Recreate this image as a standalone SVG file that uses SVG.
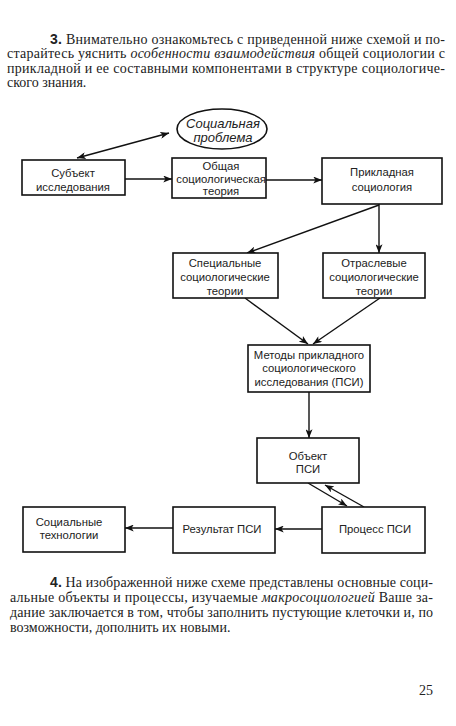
<svg xmlns="http://www.w3.org/2000/svg" width="456" height="726" viewBox="0 0 456 726">
<defs>
<marker id="ah" viewBox="0 0 10 8" refX="10" refY="4" markerWidth="9" markerHeight="7" markerUnits="userSpaceOnUse" orient="auto-start-reverse">
<path d="M0,0 L10,4 L0,8 L2.5,4 Z" fill="#111"/>
</marker>
<style>
.p{font-family:"Liberation Serif","Times New Roman",serif;font-size:14px;fill:#222}
.b{font-family:"Liberation Sans",Arial,sans-serif;font-weight:bold}
.i{font-style:italic}
.box{fill:#fff;stroke:#111;stroke-width:1.6}
.t{font-family:"Liberation Sans",Arial,sans-serif;font-size:11.3px;fill:#222;text-anchor:middle}
.e{font-size:13px}
.c{stroke:#111;stroke-width:1.4;fill:none}
</style>
</defs>
<rect width="456" height="726" fill="#fff"/>
<g id="text-top" class="p">
<text x="50" y="44" textLength="395" lengthAdjust="spacing"><tspan class="b">3.</tspan> Внимательно ознакомьтесь с приведенной ниже схемой и по-</text>
<text x="7" y="58" textLength="438" lengthAdjust="spacing">старайтесь уяснить <tspan class="i">особенности взаимодействия</tspan> общей социологии с</text>
<text x="7" y="73" textLength="438" lengthAdjust="spacing">прикладной и ее составными компонентами в структуре социологиче-</text>
<text x="7" y="87">ского знания.</text>
</g>
<g id="connectors">
<line class="c" x1="77" y1="158" x2="169" y2="133" marker-start="url(#ah)" marker-end="url(#ah)"/>
<line class="c" x1="125" y1="179" x2="172" y2="179" marker-end="url(#ah)"/>
<line class="c" x1="266" y1="180" x2="322" y2="180" marker-end="url(#ah)"/>
<line class="c" x1="379" y1="204" x2="379" y2="253" marker-end="url(#ah)"/>
<line class="c" x1="379" y1="205" x2="247" y2="253" marker-end="url(#ah)"/>
<line class="c" x1="245" y1="298" x2="308" y2="344" marker-end="url(#ah)"/>
<line class="c" x1="380" y1="298" x2="313" y2="344" marker-end="url(#ah)"/>
<line class="c" x1="309" y1="392" x2="309" y2="438" marker-end="url(#ah)"/>
<line class="c" x1="308" y1="483" x2="347" y2="506" marker-end="url(#ah)"/>
<line class="c" x1="364" y1="507" x2="325" y2="485" marker-end="url(#ah)"/>
<line class="c" x1="322" y1="529" x2="275" y2="529" marker-end="url(#ah)"/>
<line class="c" x1="173" y1="528" x2="125" y2="528" marker-end="url(#ah)"/>
</g>
<g id="problem">
<ellipse class="box" cx="222" cy="129" rx="45" ry="20"/>
<text class="t i e" x="223" y="128">Социальная</text>
<text class="t i e" x="223" y="142">проблема</text>
</g>
<g id="subject">
<rect class="box" x="22" y="160" width="103" height="35"/>
<text class="t" x="73" y="177">Субъект</text>
<text class="t" x="73" y="191">исследования</text>
</g>
<g id="general">
<rect class="box" x="172" y="158" width="94" height="40"/>
<text class="t" x="221" y="170">Общая</text>
<text class="t" x="221" y="183">социологическая</text>
<text class="t" x="221" y="195">теория</text>
</g>
<g id="applied">
<rect class="box" x="322" y="158" width="120" height="46"/>
<text class="t" x="382" y="176">Прикладная</text>
<text class="t" x="382" y="191">социология</text>
</g>
<g id="special">
<rect class="box" x="173" y="253" width="105" height="45"/>
<text class="t" x="225" y="267">Специальные</text>
<text class="t" x="225" y="281">социологические</text>
<text class="t" x="225" y="295">теории</text>
</g>
<g id="branch">
<rect class="box" x="323" y="253" width="102" height="45"/>
<text class="t" x="374" y="267">Отраслевые</text>
<text class="t" x="374" y="281">социологические</text>
<text class="t" x="374" y="295">теории</text>
</g>
<g id="methods">
<rect class="box" x="248" y="345" width="122" height="47"/>
<text class="t" x="309" y="359">Методы прикладного</text>
<text class="t" x="309" y="372">социологического</text>
<text class="t" x="309" y="386">исследования (ПСИ)</text>
</g>
<g id="object">
<rect class="box" x="257" y="438" width="102" height="45"/>
<text class="t" x="308" y="460">Объект</text>
<text class="t" x="308" y="473">ПСИ</text>
</g>
<g id="process">
<rect class="box" x="322" y="507" width="103" height="46"/>
<text class="t" x="375" y="533">Процесс ПСИ</text>
</g>
<g id="result">
<rect class="box" x="173" y="507" width="102" height="46"/>
<text class="t" x="222" y="533">Результат ПСИ</text>
</g>
<g id="tech">
<rect class="box" x="23" y="507" width="102" height="45"/>
<text class="t" x="69" y="526">Социальные</text>
<text class="t" x="69" y="539">технологии</text>
</g>
<g id="text-bottom" class="p">
<text x="50" y="587" textLength="383" lengthAdjust="spacing"><tspan class="b">4.</tspan> На изображенной ниже схеме представлены основные соци-</text>
<text x="10" y="602" textLength="423" lengthAdjust="spacing">альные объекты и процессы, изучаемые <tspan class="i">макросоциологией</tspan>  Ваше за-</text>
<text x="10" y="617" textLength="423" lengthAdjust="spacing">дание заключается в том, чтобы заполнить пустующие клеточки и, по</text>
<text x="10" y="632">возможности, дополнить их новыми.</text>
<text x="433" y="695" text-anchor="end">25</text>
</g>
</svg>
